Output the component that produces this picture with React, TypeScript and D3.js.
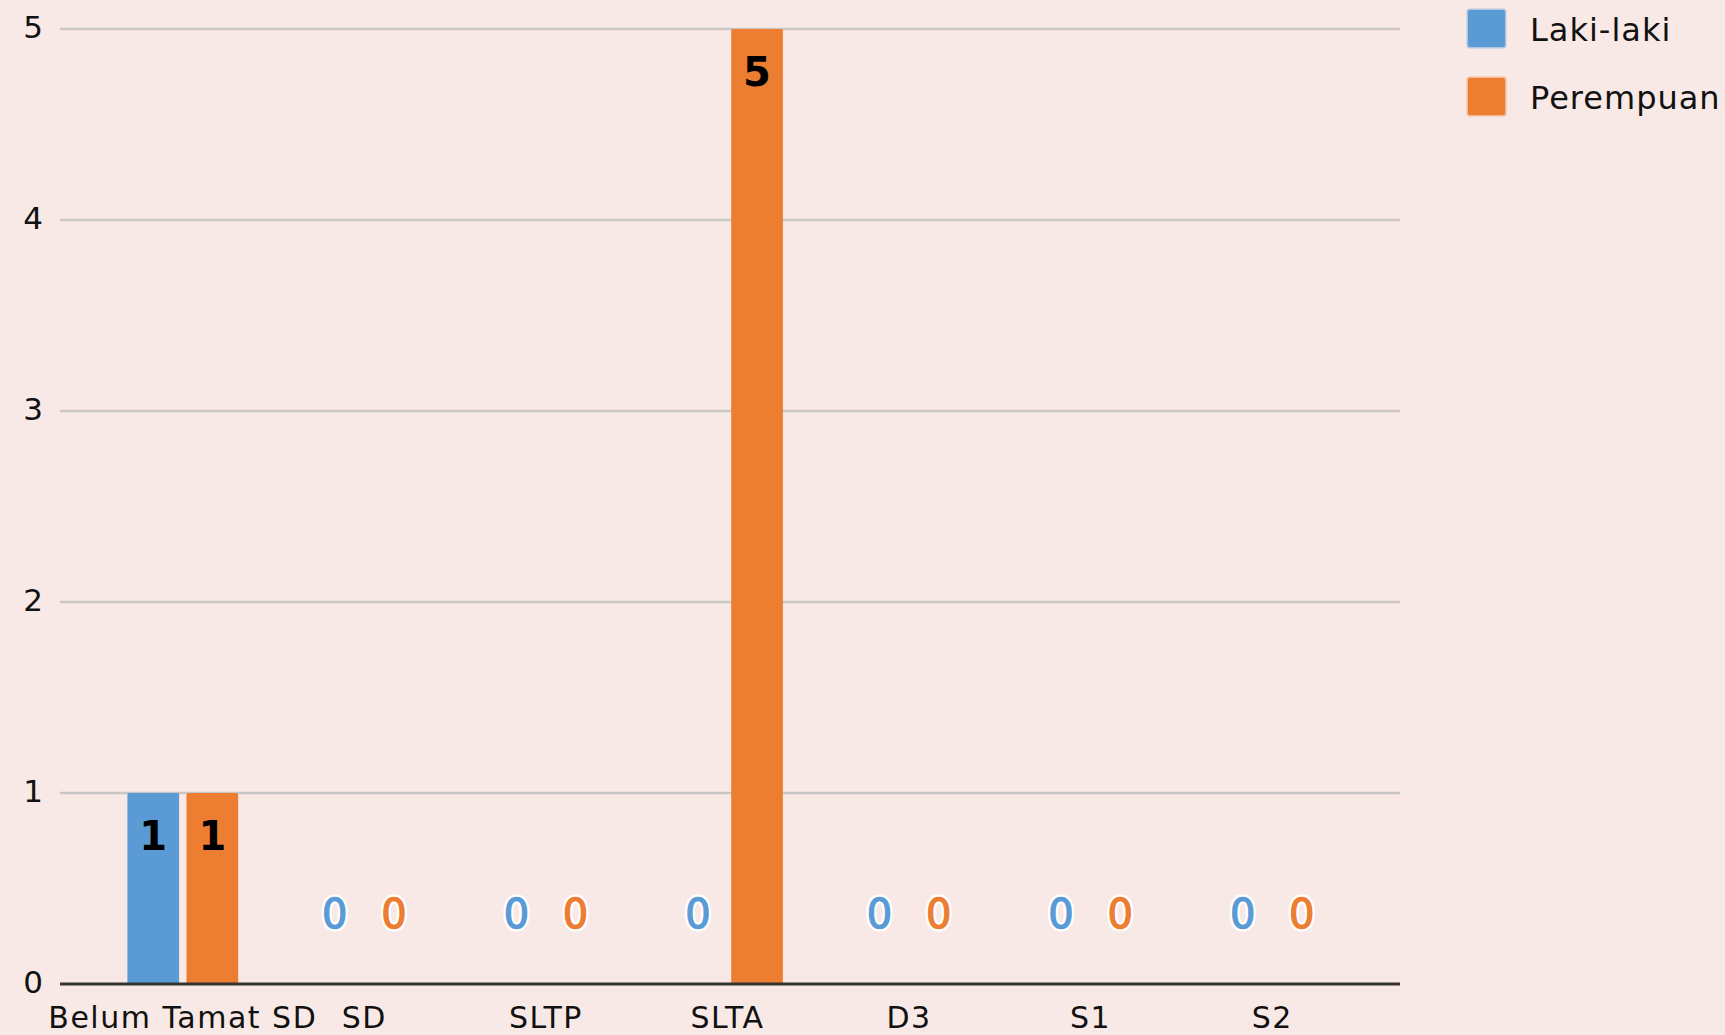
import { useEffect, useRef } from 'react';
import * as d3 from 'd3';

const categories = ['Belum Tamat SD', 'SD', 'SLTP', 'SLTA', 'D3', 'S1', 'S2'];
const seriesNames = ['Laki-laki', 'Perempuan'];
const lakiLaki = [1, 0, 0, 0, 0, 0, 0];
const perempuan = [1, 0, 0, 5, 0, 0, 0];
const yTicks = [0, 1, 2, 3, 4, 5];

const COLORS = {
    bg: '#f8e9e6',
    grid: '#c9c6c6',
    axis: '#333333',
    text: '#111111',
    series: ['#5b9bd5', '#ed7d31'],
};

const W = 1725;
const H = 1035;
const FONT = '"DejaVu Sans", sans-serif';

export default function App() {
    const svgRef = useRef<SVGSVGElement | null>(null);

    useEffect(() => {
        if (!svgRef.current) return;
        const svg = d3.select(svgRef.current);
        svg.selectAll('*').remove();

        const plot = { left: 60, right: 1400, top: 29, bottom: 984 };

        const x0 = d3.scaleBand<string>()
            .domain(categories)
            .range([92, 1363])
            .paddingInner(0.39)
            .paddingOuter(0.195);

        const x1 = d3.scaleBand<string>()
            .domain(seriesNames)
            .range([0, x0.bandwidth()])
            .paddingInner(0.125);

        const y = d3.scaleLinear().domain([0, 5]).range([plot.bottom, plot.top]);

        // background
        svg.append('rect').attr('width', W).attr('height', H).attr('fill', COLORS.bg);

        // grid lines
        svg.append('g')
            .selectAll('line')
            .data(yTicks.filter(d => d > 0))
            .join('line')
            .attr('x1', plot.left).attr('x2', plot.right)
            .attr('y1', d => y(d)).attr('y2', d => y(d))
            .attr('stroke', COLORS.grid)
            .attr('stroke-width', 2.5);

        // y tick labels
        svg.append('g')
            .selectAll('text')
            .data(yTicks)
            .join('text')
            .attr('x', 33)
            .attr('y', d => y(d) + 9)
            .attr('text-anchor', 'middle')
            .style('font-family', FONT)
            .style('font-size', '31px')
            .style('fill', COLORS.text)
            .text(d => d);

        const rows = categories.map((c, i) => ({
            cat: c,
            values: [lakiLaki[i], perempuan[i]],
        }));

        // bars
        const groups = svg.append('g')
            .selectAll('g')
            .data(rows)
            .join('g')
            .attr('transform', d => `translate(${x0(d.cat)},0)`);

        groups.selectAll('rect')
            .data(d => d.values.map((v, s) => ({ v, s })))
            .join('rect')
            .attr('x', d => x1(seriesNames[d.s])!)
            .attr('y', d => y(d.v))
            .attr('width', x1.bandwidth())
            .attr('height', d => y(0) - y(d.v))
            .attr('rx', 1.5)
            .attr('fill', d => COLORS.series[d.s]);

        // value labels: bold black inside bars, coloured with white halo for zeros
        const cells = (d: { values: number[] }) => d.values.map((v, s) => ({ v, s }));

        groups.selectAll('text.inside')
            .data(d => cells(d).filter(c => c.v > 0))
            .join('text')
            .attr('class', 'inside')
            .attr('x', d => x1(seriesNames[d.s])! + x1.bandwidth() / 2)
            .attr('y', d => y(d.v) + 57)
            .attr('text-anchor', 'middle')
            .style('font-family', FONT)
            .style('font-size', '40px')
            .style('font-weight', 'bold')
            .style('fill', '#000')
            .text(d => d.v);

        groups.selectAll('text.halo')
            .data(d => cells(d).filter(c => c.v === 0))
            .join('text')
            .attr('class', 'halo')
            .attr('x', d => x1(seriesNames[d.s])! + x1.bandwidth() / 2)
            .attr('y', y(0) - 56)
            .attr('text-anchor', 'middle')
            .style('font-family', FONT)
            .style('font-size', '40px')
            .style('fill', '#fff')
            .style('stroke', '#fff')
            .style('stroke-width', 6)
            .text(d => d.v);

        groups.selectAll('text.zero')
            .data(d => cells(d).filter(c => c.v === 0))
            .join('text')
            .attr('class', 'zero')
            .attr('x', d => x1(seriesNames[d.s])! + x1.bandwidth() / 2)
            .attr('y', y(0) - 56)
            .attr('text-anchor', 'middle')
            .style('font-family', FONT)
            .style('font-size', '40px')
            .style('fill', d => COLORS.series[d.s])
            .style('stroke', d => COLORS.series[d.s])
            .style('stroke-width', 1.3)
            .text(d => d.v);

        // baseline
        svg.append('line')
            .attr('x1', plot.left).attr('x2', plot.right)
            .attr('y1', y(0)).attr('y2', y(0))
            .attr('stroke', COLORS.axis)
            .attr('stroke-width', 3);

        // x labels
        svg.append('g')
            .selectAll('text')
            .data(categories)
            .join('text')
            .attr('x', d => x0(d)! + x0.bandwidth() / 2)
            .attr('y', 1028)
            .attr('text-anchor', 'middle')
            .style('font-family', FONT)
            .style('font-size', '30px')
            .style('letter-spacing', '1.5px')
            .style('fill', COLORS.text)
            .text(d => d);

        // legend
        const legend = svg.append('g').attr('transform', 'translate(1467,9)');
        seriesNames.forEach((name, i) => {
            legend.append('rect')
                .attr('x', 1).attr('y', i * 68 + 1)
                .attr('width', 37).attr('height', 37)
                .attr('rx', 2)
                .attr('fill', COLORS.series[i])
                .attr('stroke', COLORS.series[i])
                .attr('stroke-opacity', 0.45)
                .attr('stroke-width', 3);
            legend.append('text')
                .attr('x', 63).attr('y', i * 68 + 32)
                .style('font-family', FONT)
                .style('font-size', '32px')
                .style('letter-spacing', '1px')
                .style('fill', COLORS.text)
                .text(name);
        });
    }, []);

    return (
        <svg ref={svgRef} width={W} height={H}
            style={{ position: 'absolute', left: 0, top: 0, display: 'block' }} />
    );
}
